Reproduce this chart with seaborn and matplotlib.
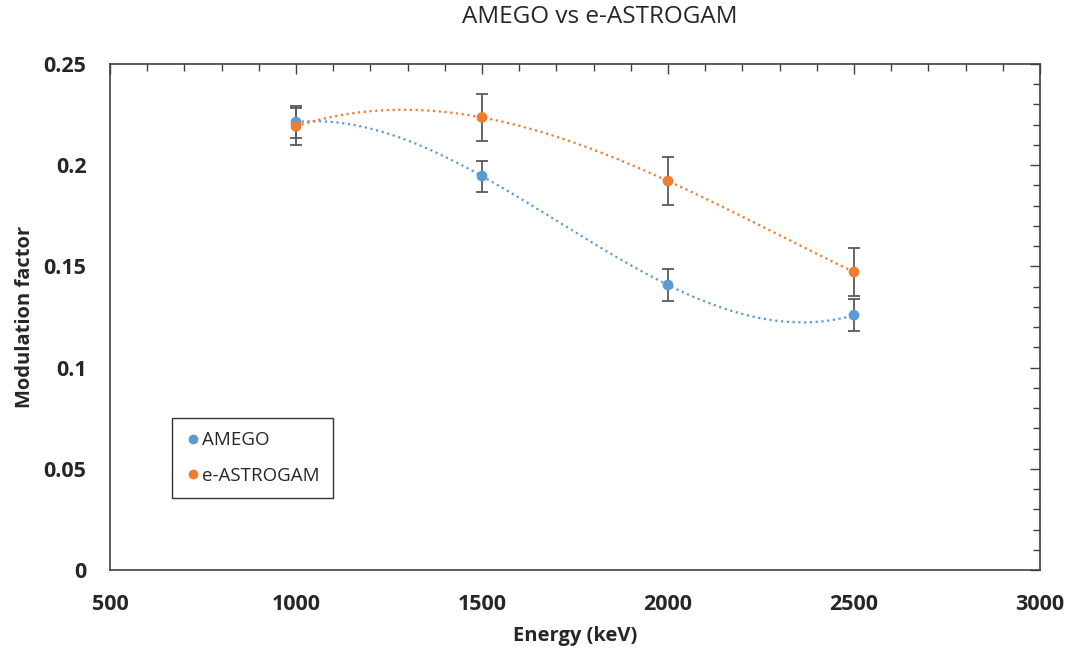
import numpy as np
import pandas as pd
import matplotlib
matplotlib.use("Agg")
import matplotlib.pyplot as plt
import seaborn as sns
from matplotlib.ticker import MultipleLocator, FuncFormatter
from matplotlib.lines import Line2D

energy = [1000, 1500, 2000, 2500]
amego = [0.2213, 0.1946, 0.1408, 0.1259]
amego_err = [0.0080, 0.0077, 0.0078, 0.0080]
eastrogam = [0.2192, 0.2236, 0.1922, 0.1472]
eastrogam_err = [0.0090, 0.0116, 0.0117, 0.0120]
series_names = ["AMEGO", "e-ASTROGAM"]
colors = ["#5B9BD5", "#ED7D31"]

sns.set_theme(style="white")
plt.rcParams['font.family'] = ['Open Sans', 'DejaVu Sans']

df = pd.DataFrame({
    "Energy": energy * 2,
    "Mod": amego + eastrogam,
    "Err": amego_err + eastrogam_err,
    "Series": [series_names[0]] * 4 + [series_names[1]] * 4,
})

fig = plt.figure(figsize=(10.72, 6.57), dpi=100)
ax = fig.add_axes([110/1072, 1-570/657, (1040-110)/1072, (570-64)/657])

# polynomial (order 3) trendlines, like Excel
xs = np.linspace(min(energy), max(energy), 300)
for vals, c in zip([amego, eastrogam], colors):
    coef = np.polyfit(energy, vals, 3)
    sns.lineplot(x=xs, y=np.polyval(coef, xs), ax=ax, color=c,
                 linestyle=(0, (1, 1.6)), linewidth=1.6, zorder=2)

for (name, sub), c in zip(df.groupby("Series", sort=False), colors):
    ax.errorbar(sub["Energy"], sub["Mod"], yerr=sub["Err"], fmt="none",
                ecolor="#595959", elinewidth=1.3, capsize=4, capthick=1.3, zorder=3)

sns.scatterplot(data=df, x="Energy", y="Mod", hue="Series", palette=colors,
                s=60, edgecolor="none", ax=ax, zorder=4, legend=False)

ax.set_xlim(500, 3000)
ax.set_ylim(0, 0.25)
ax.xaxis.set_major_locator(MultipleLocator(500))
ax.xaxis.set_minor_locator(MultipleLocator(100))
ax.yaxis.set_major_locator(MultipleLocator(0.05))
ax.yaxis.set_minor_locator(MultipleLocator(0.01))
ax.yaxis.set_major_formatter(FuncFormatter(lambda v, p: f"{v:.2f}".rstrip("0").rstrip(".") if v != 0 else "0"))
ax.tick_params(which="both", direction="in", top=True, right=True, color="#404040")
ax.tick_params(which="major", length=7, width=1.0, labelsize=15.5)
ax.tick_params(axis="x", which="major", pad=17)
ax.tick_params(axis="y", which="major", pad=17)
ax.tick_params(which="minor", length=5, width=1.0)
for lab in ax.get_xticklabels() + ax.get_yticklabels():
    lab.set_fontweight("bold")
for s in ax.spines.values():
    s.set_color("#404040")
    s.set_linewidth(1.2)

ax.set_xlabel("Energy (keV)", fontsize=14.5, fontweight="bold", labelpad=8)
ax.set_ylabel("Modulation factor", fontsize=14.5, fontweight="bold", labelpad=6)
fig.text(600/1072, 1-17/657, "AMEGO vs e-ASTROGAM", ha="center", va="center", fontsize=17.5)

handles = [Line2D([], [], marker="o", linestyle="none", color=c, markersize=6) for c in colors]
leg = ax.legend(handles, series_names, loc="upper left",
                bbox_to_anchor=((172-110)/930, (570-418)/506), fontsize=13.5,
                frameon=True, fancybox=False, edgecolor="black", handletextpad=0.1,
                labelspacing=0.95, borderpad=0.7, handlelength=0.8, borderaxespad=0)
leg.get_frame().set_linewidth(1.0)

fig.savefig("out.png", dpi=100)
